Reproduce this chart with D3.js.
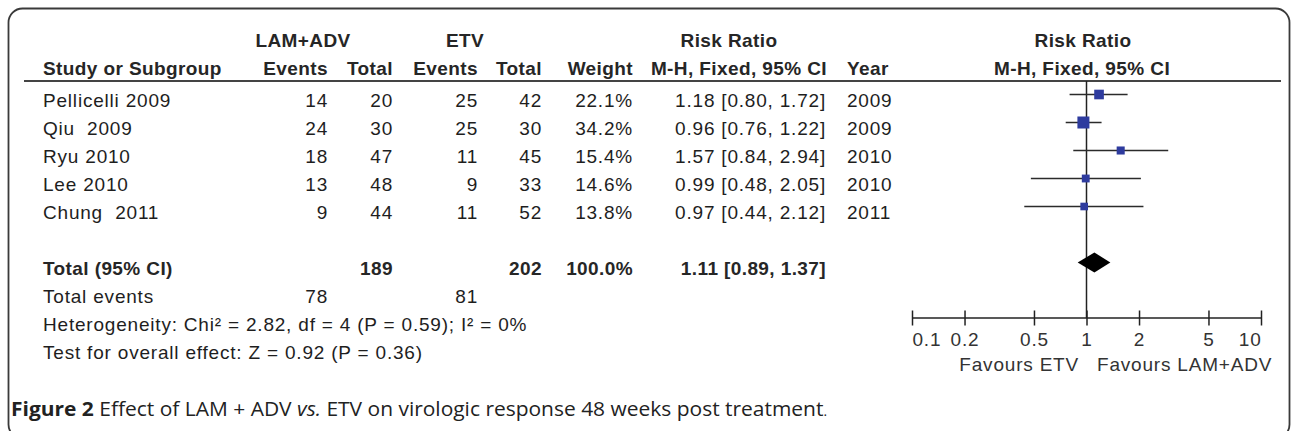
<!DOCTYPE html>
<html lang="en">
  <head>
    <meta charset="utf-8" />
    <style type="text/css">
      body {
        margin: 0;
        background: #fff;
      }
      svg text {
        font-family: "Liberation Sans", Arial, sans-serif;
        white-space: pre;
      }
      .cell {
        font-size: 19px;
        letter-spacing: 0.8px;
        fill: #1e1e1e;
      }
      .head {
        font-size: 19px;
        font-weight: bold;
        letter-spacing: 0.4px;
        fill: #262626;
      }
      .tick-label {
        font-size: 19px;
        letter-spacing: 0.8px;
        fill: #333;
      }
      .caption {
        font-family: "Open Sans", sans-serif;
        font-size: 20px;
        fill: #222;
      }
    </style>
  </head>
  <body>
    <svg width="1292" height="431"></svg>

    <script src="https://d3js.org/d3.v7.min.js"></script>
    <script type="text/javascript">
      // study rows
      var studies = ["Pellicelli 2009", "Qiu  2009", "Ryu 2010", "Lee 2010", "Chung  2011"];
      var lamEvents = [14, 24, 18, 13, 9];
      var lamTotal = [20, 30, 47, 48, 44];
      var etvEvents = [25, 25, 11, 9, 11];
      var etvTotal = [42, 30, 45, 33, 52];
      var weights = [22.1, 34.2, 15.4, 14.6, 13.8];
      var ratio = [1.18, 0.96, 1.57, 0.99, 0.97];
      var lower = [0.8, 0.76, 0.84, 0.48, 0.44];
      var upper = [1.72, 1.22, 2.94, 2.05, 2.12];
      var years = [2009, 2009, 2010, 2010, 2011];

      // pooled result
      var pooled = [1.11, 0.89, 1.37]; // ratio, lower, upper
      var pooledTotals = [189, 202];
      var pooledEvents = [78, 81];
      var pooledWeight = 100.0;
      var heterogeneity = "Heterogeneity: Chi² = 2.82, df = 4 (P = 0.59); I² = 0%";
      var overall = "Test for overall effect: Z = 0.92 (P = 0.36)";

      var ticks = [0.1, 0.2, 0.5, 1, 2, 5, 10];

      var svg = d3.select("svg");
      var f2 = d3.format(".2f"),
        f1 = d3.format(".1f");

      var rowY = d3.scaleLinear().domain([0, 1]).range([107, 135]);
      var x = d3.scaleLog().domain([0.1, 10]).range([912, 1261]);
      var side = d3.scaleSqrt().domain([0, d3.max(weights)]).range([0, 12]);
      var markShift = -12.5;
      var axisY = 318;

      // frame
      svg
        .append("rect")
        .attr("x", 8.5)
        .attr("y", 8.5)
        .attr("width", 1281)
        .attr("height", 430)
        .attr("rx", 14)
        .attr("fill", "none")
        .attr("stroke", "#3a3a3a")
        .attr("stroke-width", 1.8);

      function put(txt, xPos, yPos, anchor, cls) {
        return svg
          .append("text")
          .attr("class", cls || "cell")
          .attr("x", xPos)
          .attr("y", yPos)
          .attr("text-anchor", anchor)
          .text(txt);
      }

      // headers
      put("LAM+ADV", 303, 47, "middle", "head");
      put("ETV", 465, 47, "middle", "head");
      put("Risk Ratio", 729, 47, "middle", "head");
      put("Risk Ratio", 1083, 47, "middle", "head");

      put("Study or Subgroup", 43, 75, "start", "head");
      put("Events", 328, 75, "end", "head");
      put("Total", 393, 75, "end", "head");
      put("Events", 478, 75, "end", "head");
      put("Total", 542, 75, "end", "head");
      put("Weight", 633, 75, "end", "head");
      put("M-H, Fixed, 95% CI", 827, 75, "end", "head");
      put("Year", 847, 75, "start", "head");
      put("M-H, Fixed, 95% CI", 1082, 75, "middle", "head");

      svg
        .append("line")
        .attr("x1", 24)
        .attr("x2", 1281)
        .attr("y1", 81)
        .attr("y2", 81)
        .attr("stroke", "#444")
        .attr("stroke-width", 2);

      // study rows
      var rows = svg
        .selectAll(".row")
        .data(studies)
        .enter()
        .append("g")
        .attr("class", "row")
        .attr("transform", (d, i) => "translate(0," + rowY(i) + ")");

      var cols = [
        { x: 43, a: "start", v: (d, i) => d },
        { x: 328, a: "end", v: (d, i) => lamEvents[i] },
        { x: 393, a: "end", v: (d, i) => lamTotal[i] },
        { x: 478, a: "end", v: (d, i) => etvEvents[i] },
        { x: 542, a: "end", v: (d, i) => etvTotal[i] },
        { x: 633, a: "end", v: (d, i) => f1(weights[i]) + "%" },
        {
          x: 826,
          a: "end",
          v: (d, i) => f2(ratio[i]) + " [" + f2(lower[i]) + ", " + f2(upper[i]) + "]",
        },
        { x: 847, a: "start", v: (d, i) => years[i] },
      ];

      cols.forEach(function (c) {
        rows
          .append("text")
          .attr("class", "cell")
          .attr("x", c.x)
          .attr("text-anchor", c.a)
          .text(c.v);
      });

      // pooled rows
      var yTot = rowY(6);
      put("Total (95% CI)", 43, yTot, "start", "head");
      put(pooledTotals[0], 393, yTot, "end", "head");
      put(pooledTotals[1], 542, yTot, "end", "head");
      put(f1(pooledWeight) + "%", 633, yTot, "end", "head");
      put(f2(pooled[0]) + " [" + f2(pooled[1]) + ", " + f2(pooled[2]) + "]", 826, yTot, "end", "head");

      put("Total events", 43, rowY(7), "start");
      put(pooledEvents[0], 328, rowY(7), "end");
      put(pooledEvents[1], 478, rowY(7), "end");
      put(heterogeneity, 43, rowY(8), "start");
      put(overall, 43, rowY(9), "start");

      // forest plot
      svg
        .append("line")
        .attr("x1", x(1))
        .attr("x2", x(1))
        .attr("y1", 81)
        .attr("y2", axisY)
        .attr("stroke", "#222")
        .attr("stroke-width", 1.5);

      svg
        .selectAll(".ci")
        .data(studies)
        .enter()
        .append("line")
        .attr("class", "ci")
        .attr("x1", (d, i) => x(lower[i]))
        .attr("x2", (d, i) => x(upper[i]))
        .attr("y1", (d, i) => rowY(i) + markShift)
        .attr("y2", (d, i) => rowY(i) + markShift)
        .attr("stroke", "#2b2b2b")
        .attr("stroke-width", 1.5);

      svg
        .selectAll(".box")
        .data(studies)
        .enter()
        .append("rect")
        .attr("class", "box")
        .attr("x", (d, i) => x(ratio[i]) - side(weights[i]) / 2)
        .attr("y", (d, i) => rowY(i) + markShift - side(weights[i]) / 2)
        .attr("width", (d, i) => side(weights[i]))
        .attr("height", (d, i) => side(weights[i]))
        .attr("fill", "#2e3b9e");

      var dy = yTot + markShift;
      svg
        .append("path")
        .attr(
          "d",
          "M" + x(pooled[1]) + "," + dy +
            "L" + x(pooled[0]) + "," + (dy - 10) +
            "L" + x(pooled[2]) + "," + dy +
            "L" + x(pooled[0]) + "," + (dy + 10) + "Z"
        )
        .attr("fill", "#000");

      // axis, ticks go both sides of the line
      var axis = svg
        .append("g")
        .attr("transform", "translate(0," + (axisY - 7.5) + ")")
        .call(
          d3
            .axisBottom(x)
            .tickValues(ticks)
            .tickFormat(d3.format(""))
            .tickSize(15)
            .tickPadding(7)
        );
      axis.select(".domain").remove();
      axis.selectAll(".tick line").attr("stroke", "#222").attr("stroke-width", 1.5);
      axis
        .selectAll(".tick text")
        .attr("class", "tick-label")
        .attr("font-family", null)
        .attr("font-size", null)
        .attr("fill", null)
        .attr("text-anchor", (d, i) => (i === 0 ? "start" : i === ticks.length - 1 ? "end" : "middle"));
      axis.attr("font-family", null).attr("font-size", null);

      svg
        .append("line")
        .attr("x1", x(0.1))
        .attr("x2", x(10))
        .attr("y1", axisY)
        .attr("y2", axisY)
        .attr("stroke", "#222")
        .attr("stroke-width", 1.5);

      put("Favours ETV", 1079, 371, "end", "tick-label");
      put("Favours LAM+ADV", 1097, 371, "start", "tick-label");

      // caption
      var cap = svg
        .append("text")
        .attr("class", "caption")
        .attr("x", 11)
        .attr("y", 416)
        .attr("textLength", 816)
        .attr("lengthAdjust", "spacingAndGlyphs");
      cap.append("tspan").attr("font-weight", "bold").text("Figure 2");
      cap.append("tspan").text(" Effect of LAM + ADV ");
      cap.append("tspan").attr("font-style", "italic").text("vs.");
      cap.append("tspan").text(" ETV on virologic response 48 weeks post treatment");
      cap.append("tspan").attr("font-size", "13px").text(".");
    </script>
  </body>
</html>
